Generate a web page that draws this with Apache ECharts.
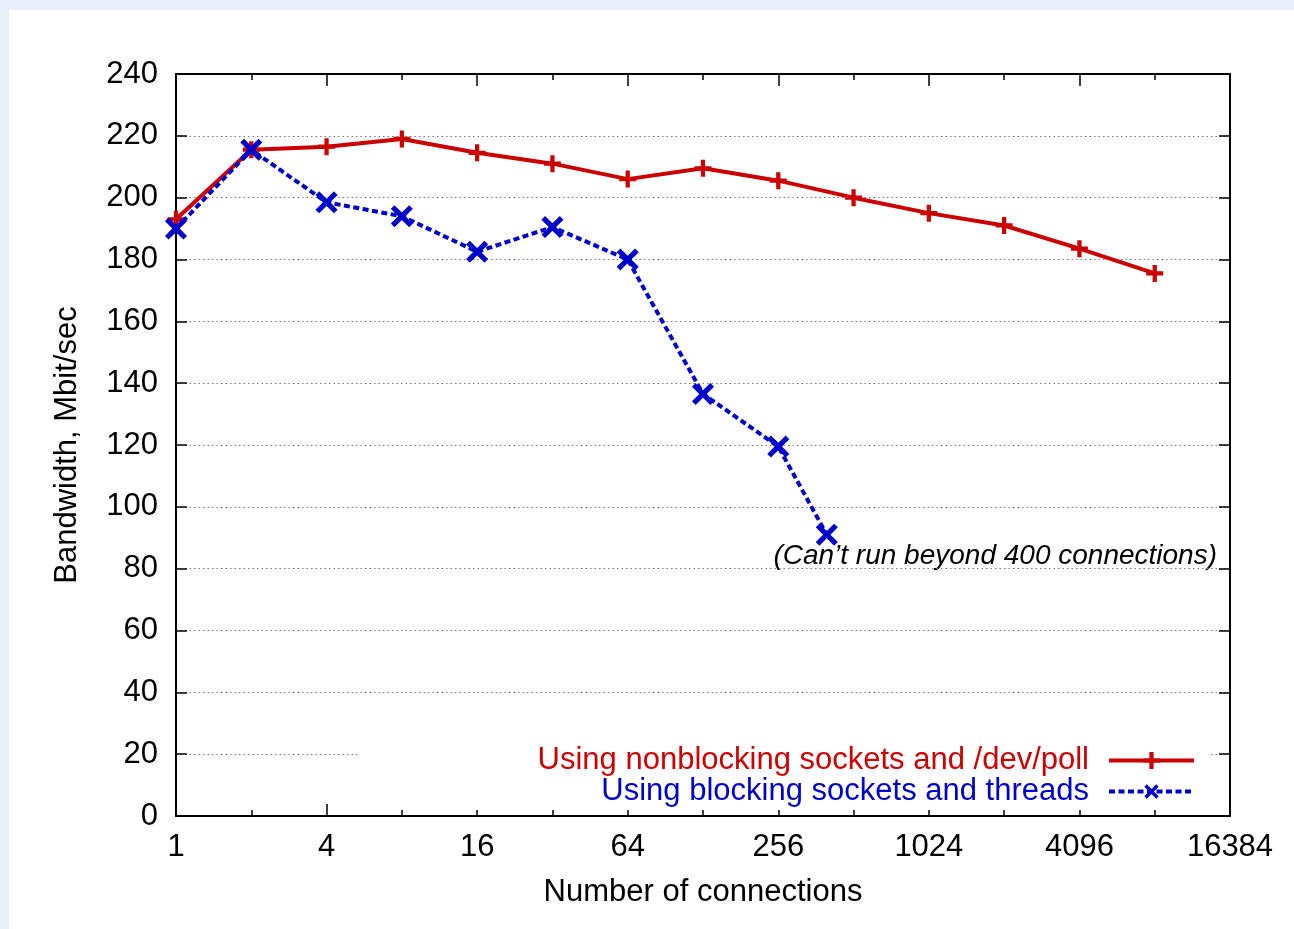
<!DOCTYPE html>
<html>
<head>
<meta charset="utf-8">
<script src="https://cdn.jsdelivr.net/npm/echarts@6/dist/echarts.min.js"></script>
<style>
  html, body { margin: 0; padding: 0; background: #e6f0fb; width: 1294px; height: 929px; overflow: hidden; }
  #chart { position: absolute; left: 9px; top: 10px; width: 1285px; height: 919px; background: #ffffff; }
</style>
</head>
<body>
<div id="chart"></div>
<script>
// ---- data ----
const connectionsNonblocking = [1, 2, 4, 8, 16, 32, 64, 128, 256, 512, 1024, 2048, 4096, 8192];
const bandwidthNonblocking = [193, 215.5, 216.5, 219, 214.5, 211, 206, 209.5, 205.5, 200, 195, 191, 183.5, 175.5];
const connectionsBlocking = [1, 2, 4, 8, 16, 32, 64, 128, 256, 400];
const bandwidthBlocking = [190, 215.5, 198.5, 194, 182.5, 190.5, 180, 136.5, 119.5, 91];
const seriesNames = ['Using nonblocking sockets and /dev/poll', 'Using blocking sockets and threads'];
const xTickRange = [1, 16384];
const yTickRange = [0, 240, 20];
const annotationText = '(Can\u2019t run beyond 400 connections)';

const FONT = 'Liberation Sans, Arial, Helvetica, sans-serif';
const FS = 31;
const RED = '#cc0000';
const BLUE = '#0000cc';
const plusPath = 'path://M3.75,0H6.25V3.75H10V6.25H6.25V10H3.75V6.25H0V3.75H3.75Z';
const crossPath = 'path://M4,0H6V4H10V6H6V10H4V6H0V4H4Z';

const chart = echarts.init(document.getElementById('chart'), null, { renderer: 'canvas' });

function xAxisDef(position, interval, tickLen, showLine, showLabel, withName) {
  const a = {
    type: 'log', logBase: 2, min: xTickRange[0], max: xTickRange[1], interval: interval,
    position: position, gridIndex: 0,
    axisLine: { show: showLine, lineStyle: { color: '#000', width: 2 } },
    axisTick: { show: true, inside: true, length: tickLen, lineStyle: { color: '#000', width: 1.5 } },
    axisLabel: { show: showLabel, color: '#000', fontFamily: FONT, fontSize: FS, margin: 16,
      formatter: v => String(Math.round(v)) },
    splitLine: { show: false }, minorTick: { show: false }
  };
  if (withName) {
    a.name = 'Number of connections';
    a.nameLocation = 'middle';
    a.nameGap = 61;
    a.nameTextStyle = { color: '#000', fontFamily: FONT, fontSize: FS };
  }
  return a;
}

const option = {
  backgroundColor: '#ffffff',
  animation: false,
  grid: { left: 167, top: 64, right: 64, bottom: 113, containLabel: false },
  xAxis: [
    xAxisDef('bottom', 2, 12, true, true, true),
    xAxisDef('bottom', 1, 6, false, false, false),
    xAxisDef('top', 2, 12, true, false, false),
    xAxisDef('top', 1, 6, false, false, false)
  ],
  yAxis: [
    {
      type: 'value', min: yTickRange[0], max: yTickRange[1], interval: yTickRange[2], position: 'left',
      axisLine: { show: true, lineStyle: { color: '#000', width: 2 } },
      axisTick: { show: true, inside: true, length: 11, lineStyle: { color: '#000', width: 1.5 } },
      axisLabel: { color: '#000', fontFamily: FONT, fontSize: FS, margin: 18 },
      splitLine: { show: true, lineStyle: { color: '#777', width: 1, type: [1.5, 3] } },
      name: 'Bandwidth, Mbit/sec', nameLocation: 'middle', nameGap: 93,
      nameTextStyle: { color: '#000', fontFamily: FONT, fontSize: FS }
    },
    {
      type: 'value', min: yTickRange[0], max: yTickRange[1], interval: yTickRange[2], position: 'right',
      axisLine: { show: true, lineStyle: { color: '#000', width: 2 } },
      axisTick: { show: true, inside: true, length: 11, lineStyle: { color: '#000', width: 1.5 } },
      axisLabel: { show: false },
      splitLine: { show: false }
    }
  ],
  legend: {
    orient: 'vertical', right: 84, top: 727, align: 'right',
    itemWidth: 85, itemHeight: 21, itemGap: 0,
    padding: [8, 14, 3, 178],
    backgroundColor: '#ffffff',
    lineStyle: { width: 4 },
    textStyle: { fontFamily: FONT, fontSize: FS, lineHeight: 31, padding: [0, 15, 0, 0] },
    data: [
      { name: seriesNames[0], textStyle: { color: RED } },
      { name: seriesNames[1], textStyle: { color: BLUE } }
    ]
  },
  graphic: [
    {
      type: 'text', right: 1294 - 9 - 1208, top: 532,
      style: { text: annotationText, fill: '#000', font: 'italic 28px ' + FONT, textAlign: 'right' }
    }
  ],
  series: [
    {
      name: seriesNames[0], type: 'line', xAxisIndex: 0, yAxisIndex: 0,
      data: connectionsNonblocking.map((c, i) => [c, bandwidthNonblocking[i]]),
      symbol: plusPath, symbolSize: 17, showAllSymbol: true,
      lineStyle: { color: RED, width: 4 },
      itemStyle: { color: RED, borderWidth: 0 },
      z: 3
    },
    {
      name: seriesNames[1], type: 'line', xAxisIndex: 0, yAxisIndex: 0,
      data: connectionsBlocking.map((c, i) => [c, bandwidthBlocking[i]]),
      symbol: crossPath, symbolRotate: 45, symbolSize: 26, showAllSymbol: true,
      lineStyle: { color: BLUE, width: 4, type: [6, 3.5] },
      itemStyle: { color: BLUE, borderWidth: 0 },
      z: 4
    }
  ]
};
chart.setOption(option);
</script>
</body>
</html>
